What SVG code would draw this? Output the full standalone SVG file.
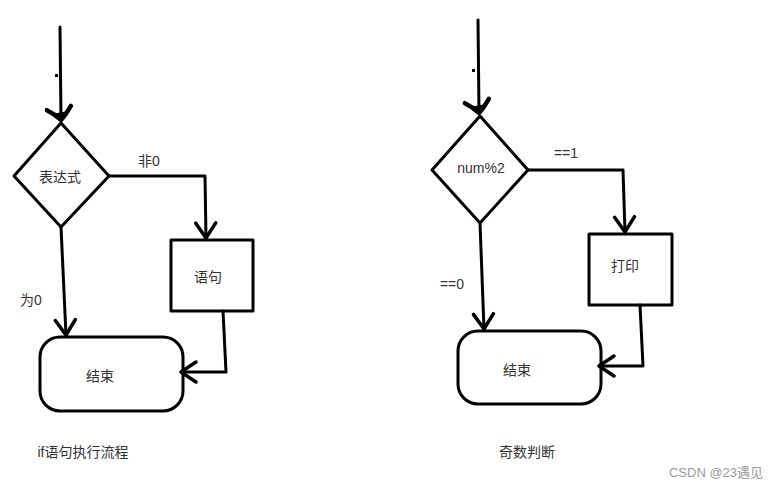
<svg xmlns="http://www.w3.org/2000/svg" width="779" height="489" viewBox="0 0 779 489">
<style>
.ln{fill:none;stroke:#000;stroke-width:3;stroke-linejoin:round;stroke-linecap:round}
.sh{fill:#fff;stroke:#000;stroke-width:3;stroke-linejoin:round}
.t{font-family:"Liberation Sans","Noto Sans CJK SC",sans-serif;font-size:14px;fill:#333;text-anchor:middle;dominant-baseline:central}
.wm{font-family:"Liberation Sans","Noto Sans CJK SC",sans-serif;font-size:13px;fill:#999;text-anchor:middle;dominant-baseline:central}
</style>
<defs>
<marker id="arr" markerUnits="userSpaceOnUse" markerWidth="40" markerHeight="40" viewBox="-20 -20 40 40" refX="0" refY="0" orient="auto" overflow="visible">
<path d="M-15,-10 L0,0 L-15,10" fill="none" stroke="#000" stroke-width="3.5" stroke-linecap="round" stroke-linejoin="round"/>
</marker>
<marker id="arrb" markerUnits="userSpaceOnUse" markerWidth="40" markerHeight="40" viewBox="-20 -20 40 40" refX="0" refY="0" orient="auto" overflow="visible">
<path d="M-14,-10 Q-4,-4 0,0 Q-6,6 -10,14" fill="none" stroke="#000" stroke-width="4.5" stroke-linecap="round" stroke-linejoin="round"/>
<path d="M-7,-5 L0,0 L-5,6 Z" fill="#000" stroke="#000" stroke-width="3" stroke-linejoin="round"/>
</marker>
</defs>
<rect x="0" y="0" width="779" height="489" fill="#fff"/>

<g id="left-start"><rect x="55" y="74" width="3" height="3" fill="#000"/></g>
<g id="left-decision">
<polygon class="sh" points="61,123 109,176 61,227 14,176"/>
<text class="t" x="60" y="177">表达式</text>
</g>
<g id="left-statement">
<rect class="sh" x="171" y="240" width="82" height="71"/>
<text class="t" x="208" y="277">语句</text>
</g>
<g id="left-end">
<rect class="sh" x="40" y="337" width="143" height="74" rx="20" ry="20"/>
<text class="t" x="100" y="376">结束</text>
</g>
<g id="left-caption"><text class="t" x="83" y="452">if语句执行流程</text></g>

<g id="right-start"><rect x="472" y="69" width="3" height="3" fill="#000"/></g>
<g id="right-decision">
<polygon class="sh" points="480,116 528,170 480,223 432,170"/>
<text class="t" x="481" y="168">num%2</text>
</g>
<g id="right-print">
<rect class="sh" x="589" y="234" width="83" height="71"/>
<text class="t" x="625" y="266">打印</text>
</g>
<g id="right-end">
<rect class="sh" x="458" y="331" width="143" height="73" rx="20" ry="20"/>
<text class="t" x="517" y="370">结束</text>
</g>
<g id="right-caption"><text class="t" x="527" y="452">奇数判断</text></g>

<g id="connectors">
<path class="ln" d="M60,27 L61,120" marker-end="url(#arrb)"/>
<path class="ln" d="M109,176 L205,176 L206,238" marker-end="url(#arr)"/>
<path class="ln" d="M61,227 L66,335" marker-end="url(#arr)"/>
<path class="ln" d="M223,311 L226,372 L181,372" marker-end="url(#arr)"/>
<path class="ln" d="M478,20 L479,113" marker-end="url(#arrb)"/>
<path class="ln" d="M528,170 L623,170 L625,232" marker-end="url(#arr)"/>
<path class="ln" d="M480,223 L484,329" marker-end="url(#arr)"/>
<path class="ln" d="M640,305 L643,366 L599,366" marker-end="url(#arr)"/>
<text class="t" x="149" y="161">非0</text>
<text class="t" x="31" y="300">为0</text>
<text class="t" x="566" y="153">==1</text>
<text class="t" x="452" y="284">==0</text>
</g>

<text class="wm" x="716" y="472">CSDN @23遇见</text>
</svg>
